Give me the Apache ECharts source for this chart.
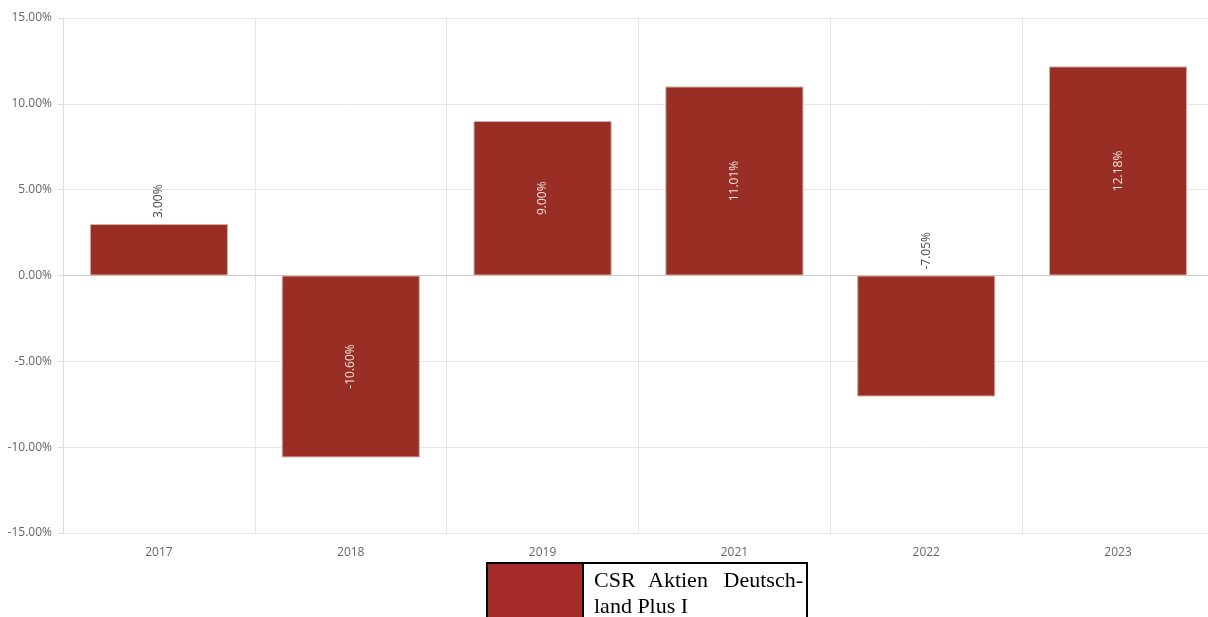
<!DOCTYPE html>
<html>
<head>
<meta charset="utf-8">
<script src="https://cdn.jsdelivr.net/npm/echarts@6/dist/echarts.min.js"></script>
<style>
html,body{margin:0;padding:0;background:#fff;overflow:hidden;width:1208px;height:617px;}
#chart{width:1214px;height:617px;}
</style>
</head>
<body>
<div id="chart"></div>
<script>
var years = ['2017', '2018', '2019', '2021', '2022', '2023'];
var returns = [3.00, -10.60, 9.00, 11.01, -7.05, 12.18];
var labelOutside = [true, false, false, false, true, false];
var seriesName = 'CSR Aktien Deutschland Plus I';
var yTicks = {min: -15, max: 15, interval: 5};

var chart = echarts.init(document.getElementById('chart'));
var data = returns.map(function (v, i) {
  var item = {value: v};
  if (labelOutside[i]) {
    item.label = {position: 'top', color: '#444', distance: 6, align: 'left', verticalAlign: 'middle'};
  }
  return item;
});

chart.setOption({
  animation: false,
  textStyle: {fontFamily: 'Open Sans'},
  grid: {left: 63, right: 0, top: 18, bottom: 84, containLabel: false},
  xAxis: {
    type: 'category',
    data: years,
    axisLine: {show: true, lineStyle: {color: '#cccccc'}},
    axisTick: {show: true, length: 7, lineStyle: {color: '#dddddd'}},
    axisLabel: {color: '#666', fontSize: 12, margin: 14},
    splitLine: {show: true, lineStyle: {color: '#e6e6e6'}}
  },
  yAxis: {
    type: 'value',
    min: yTicks.min, max: yTicks.max, interval: yTicks.interval,
    axisLine: {show: true, lineStyle: {color: '#dddddd'}},
    axisTick: {show: true, length: 5, lineStyle: {color: '#dddddd'}},
    axisLabel: {color: '#666', fontSize: 12, margin: 11,
      formatter: function (v) { return v.toFixed(2) + '%'; }},
    splitLine: {show: true, lineStyle: {color: '#e6e6e6'}}
  },
  series: [{
    name: seriesName,
    type: 'bar',
    data: data,
    barCategoryGap: '28%',
    itemStyle: {color: '#992f24', borderColor: '#d6b0aa', borderWidth: 1},
    label: {
      show: true,
      position: 'inside',
      rotate: 90,
      color: '#f2e4e2',
      fontSize: 12,
      formatter: function (p) { return p.value.toFixed(2) + '%'; }
    }
  }],
  graphic: [
    {type: 'rect', shape: {x: 487, y: 563, width: 320, height: 70},
     style: {fill: '#fff', stroke: '#000', lineWidth: 2}, z: 10},
    {type: 'rect', shape: {x: 488, y: 564, width: 95, height: 60},
     style: {fill: '#a52a2a'}, z: 11},
    {type: 'line', shape: {x1: 583, y1: 563, x2: 583, y2: 620},
     style: {stroke: '#000', lineWidth: 2}, z: 12},
    {type: 'text', x: 594, y: 581, z: 12,
     style: {text: 'CSR', font: '22px "Liberation Serif"', fill: '#000', verticalAlign: 'middle', align: 'left'}},
    {type: 'text', x: 648, y: 581, z: 12,
     style: {text: 'Aktien', font: '22px "Liberation Serif"', fill: '#000', verticalAlign: 'middle', align: 'left'}},
    {type: 'text', x: 803, y: 581, z: 12,
     style: {text: 'Deutsch-', font: '22px "Liberation Serif"', fill: '#000', verticalAlign: 'middle', align: 'right'}},
    {type: 'text', x: 594, y: 607, z: 12,
     style: {text: 'land Plus I', font: '22px "Liberation Serif"', fill: '#000', verticalAlign: 'middle', align: 'left'}}
  ]
});
</script>
</body>
</html>
